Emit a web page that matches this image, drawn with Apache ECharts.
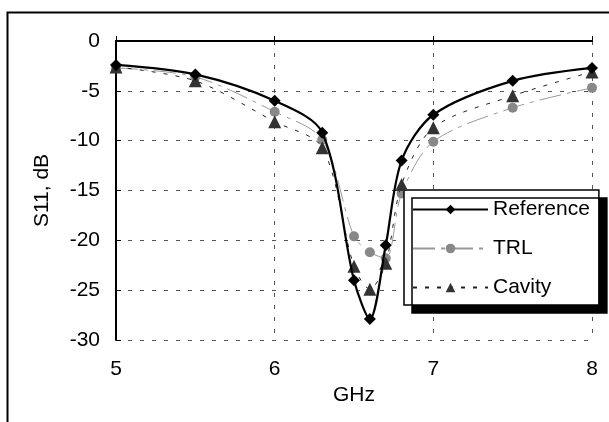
<!DOCTYPE html>
<html>
<head>
<meta charset="utf-8">
<script src="https://cdn.jsdelivr.net/npm/echarts@6/dist/echarts.min.js"></script>
<style>
  html, body { margin: 0; padding: 0; background: #fff; }
  #chart { width: 609px; height: 422px; }
</style>
</head>
<body>
<div id="chart"></div>
<script>
// 频率 (GHz)
var freq = [5, 5.5, 6, 6.3, 6.5, 6.6, 6.7, 6.8, 7, 7.5, 8];
// S11 (dB)
var reference = [-2.4, -3.35, -6.0, -9.2, -24.0, -27.9, -20.5, -12.0, -7.4, -4.0, -2.7];
var trl = [-2.7, -3.6, -7.1, -9.9, -19.6, -21.2, -21.8, -15.3, -10.1, -6.7, -4.7];
var cavity = [-2.6, -4.0, -8.1, -10.7, -22.6, -24.9, -22.3, -14.4, -8.7, -5.5, -3.1];
var xTicks = [5, 6, 7, 8];
var yTicks = [0, -5, -10, -15, -20, -25, -30];

function pairs(ys) {
    return freq.map(function (f, i) { return [f, ys[i]]; });
}

var font = 'Liberation Sans, Arial, sans-serif';
var chart = echarts.init(document.getElementById('chart'));
chart.setOption({
    backgroundColor: '#fff',
    animation: false,
    graphic: [{
        type: 'rect',
        left: 5, top: 10,
        shape: { width: 700, height: 500 },
        style: { fill: 'none', stroke: '#000', lineWidth: 2 },
        z: 0
    }],
    grid: { left: 116, right: 17, top: 41, bottom: 82 },
    legend: {
        orient: 'vertical',
        left: 404, top: 190,
        padding: [9, 9, 7, 8],
        itemGap: 18,
        itemWidth: 75,
        itemHeight: 12,
        backgroundColor: '#fff',
        borderColor: '#000',
        borderWidth: 1.5,
        shadowColor: '#000',
        shadowBlur: 0,
        shadowOffsetX: 8,
        shadowOffsetY: 8,
        textStyle: { fontFamily: font, fontSize: 21, color: '#000' },
        data: ['Reference', 'TRL', 'Cavity']
    },
    xAxis: {
        type: 'value',
        min: 5, max: 8, interval: 1,
        name: 'GHz',
        nameLocation: 'middle',
        nameGap: 38,
        nameTextStyle: { fontFamily: font, fontSize: 21, color: '#000' },
        axisLine: { lineStyle: { color: '#000', width: 2 } },
        axisTick: { inside: true, length: 5, lineStyle: { color: '#000' } },
        axisLabel: {
            fontFamily: font, fontSize: 21, color: '#000', margin: 19,
            customValues: xTicks
        },
        splitLine: { show: true, lineStyle: { color: '#555', type: [4, 8] } }
    },
    yAxis: {
        type: 'value',
        min: -30, max: 0, interval: 5,
        name: 'S11, dB',
        nameLocation: 'middle',
        nameGap: 63,
        nameTextStyle: { fontFamily: font, fontSize: 21, color: '#000' },
        axisLine: { show: true, lineStyle: { color: '#000', width: 2 } },
        axisTick: { show: true, inside: true, length: 5, lineStyle: { color: '#000' } },
        axisLabel: {
            fontFamily: font, fontSize: 21, color: '#000', margin: 16,
            customValues: yTicks
        },
        splitLine: { show: true, lineStyle: { color: '#555', type: [4, 8] } }
    },
    series: [
        {
            name: 'Reference',
            type: 'line',
            data: pairs(reference),
            smooth: 0.3,
            symbol: 'diamond',
            symbolSize: 12,
            z: 5,
            lineStyle: { color: '#000', width: 2.2 },
            itemStyle: { color: '#000' }
        },
        {
            name: 'TRL',
            type: 'line',
            data: pairs(trl),
            smooth: 0.3,
            symbol: 'circle',
            symbolSize: 10,
            z: 3,
            lineStyle: { color: '#999', width: 1, type: [22, 6, 4, 6] },
            itemStyle: { color: '#888' }
        },
        {
            name: 'Cavity',
            type: 'line',
            data: pairs(cavity),
            smooth: 0.3,
            symbol: 'triangle',
            symbolSize: 13,
            z: 4,
            lineStyle: { color: '#222', width: 1, type: [4, 8] },
            itemStyle: { color: '#333' }
        }
    ]
});
</script>
</body>
</html>
